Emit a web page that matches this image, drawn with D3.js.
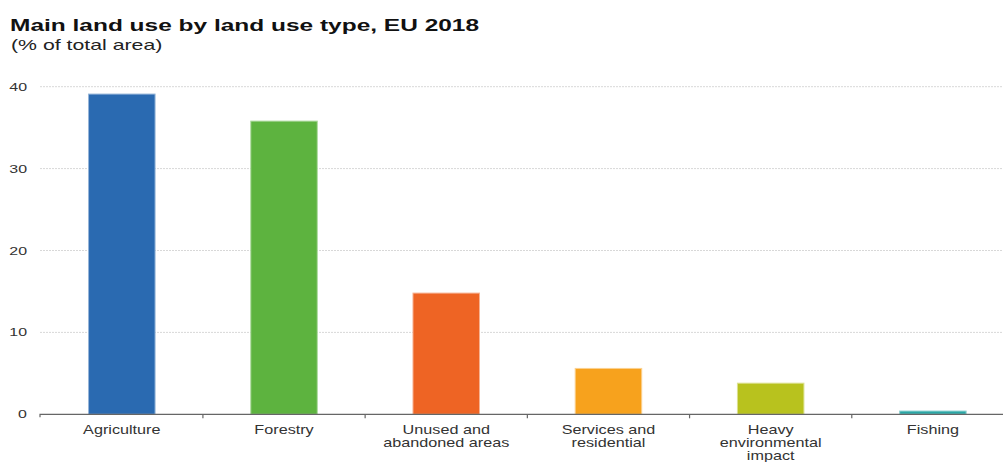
<!DOCTYPE html>
<html><head><meta charset="utf-8">
<script src="https://cdn.jsdelivr.net/npm/d3@7"></script>
<style>body{margin:0;background:#fff}svg{display:block}</style>
</head><body><svg id="c" width="1003" height="462"></svg>
<script>
const categories = [["Agriculture"],["Forestry"],["Unused and","abandoned areas"],["Services and","residential"],["Heavy","environmental","impact"],["Fishing"]];
const values = [39.1, 35.8, 14.8, 5.6, 3.8, 0.4];
const colors = ["#2a6ab1","#5db33f","#ee6424","#f7a21d","#b8c21e","#2aa7a6"];
const yTicks = [0,10,20,30,40];

const svg = d3.select("#c");
const font = "Liberation Sans, Arial, sans-serif";
const x = d3.scaleBand().domain(d3.range(categories.length)).range([40.7, 1014]).paddingInner(0.59).paddingOuter(0.295);
const xb = d3.scaleBand().domain(d3.range(categories.length)).range([40.7, 1014]);
const y = d3.scaleLinear().domain([0,40]).range([414.3, 86.7]);

svg.append("text").attr("transform","translate(10,31) scale(1.44,1)").attr("font-family",font).attr("font-weight","bold").attr("font-size",17).attr("fill","#111").text("Main land use by land use type, EU 2018");
svg.append("text").attr("transform","translate(11,50) scale(1.52,1)").attr("font-family",font).attr("font-size",14).attr("fill","#222").text("(% of total area)");

// grid
svg.append("g").selectAll("line").data(yTicks.filter(d=>d>0)).join("line")
  .attr("x1",40).attr("x2",1003).attr("y1",d=>y(d)).attr("y2",d=>y(d))
  .attr("stroke","#d8d8d8").attr("stroke-width",1).attr("stroke-dasharray","2,1");
svg.append("g").selectAll("text").data(yTicks).join("text")
  .attr("transform",d=>`translate(27,${y(d)+4}) scale(1.45,1)`).attr("text-anchor","end")
  .attr("font-family",font).attr("font-size",11).attr("fill","#333").text(d=>d);

// bars
svg.append("g").selectAll("rect").data(values).join("rect")
  .attr("x",(d,i)=>x(i)).attr("width",x.bandwidth())
  .attr("y",d=>y(d)).attr("height",d=>y(0)-y(d))
  .attr("fill",(d,i)=>colors[i]).attr("stroke",(d,i)=>d3.interpolateRgb(colors[i],"#fff")(0.5)).attr("stroke-width",1);

// axis
const ax = svg.append("g").attr("transform",`translate(0,${y(0)})`)
  .call(d3.axisBottom(xb).tickSize(0).tickFormat(""));
ax.select(".domain").attr("stroke","#666").attr("stroke-width",1.2).attr("d","M40,3V0H1003");
ax.selectAll(".tick").remove();
svg.append("g").selectAll("line").data(d3.range(1,categories.length)).join("line")
  .attr("x1",i=>xb(i)).attr("x2",i=>xb(i)).attr("y1",y(0)).attr("y2",y(0)+4)
  .attr("stroke","#666").attr("stroke-width",1.2);

const lab = svg.append("g").selectAll("text").data(categories).join("text")
  .attr("text-anchor","middle").attr("font-family",font).attr("font-size",12).attr("fill","#333")
  .attr("transform",(d,i)=>`translate(${xb(i)+xb.bandwidth()/2},${y(0)+20}) scale(1.35,1)`);
lab.selectAll("tspan").data(d=>d).join("tspan").attr("x",0).attr("dy",(d,j)=>j?13:0).text(d=>d);
</script></body></html>
